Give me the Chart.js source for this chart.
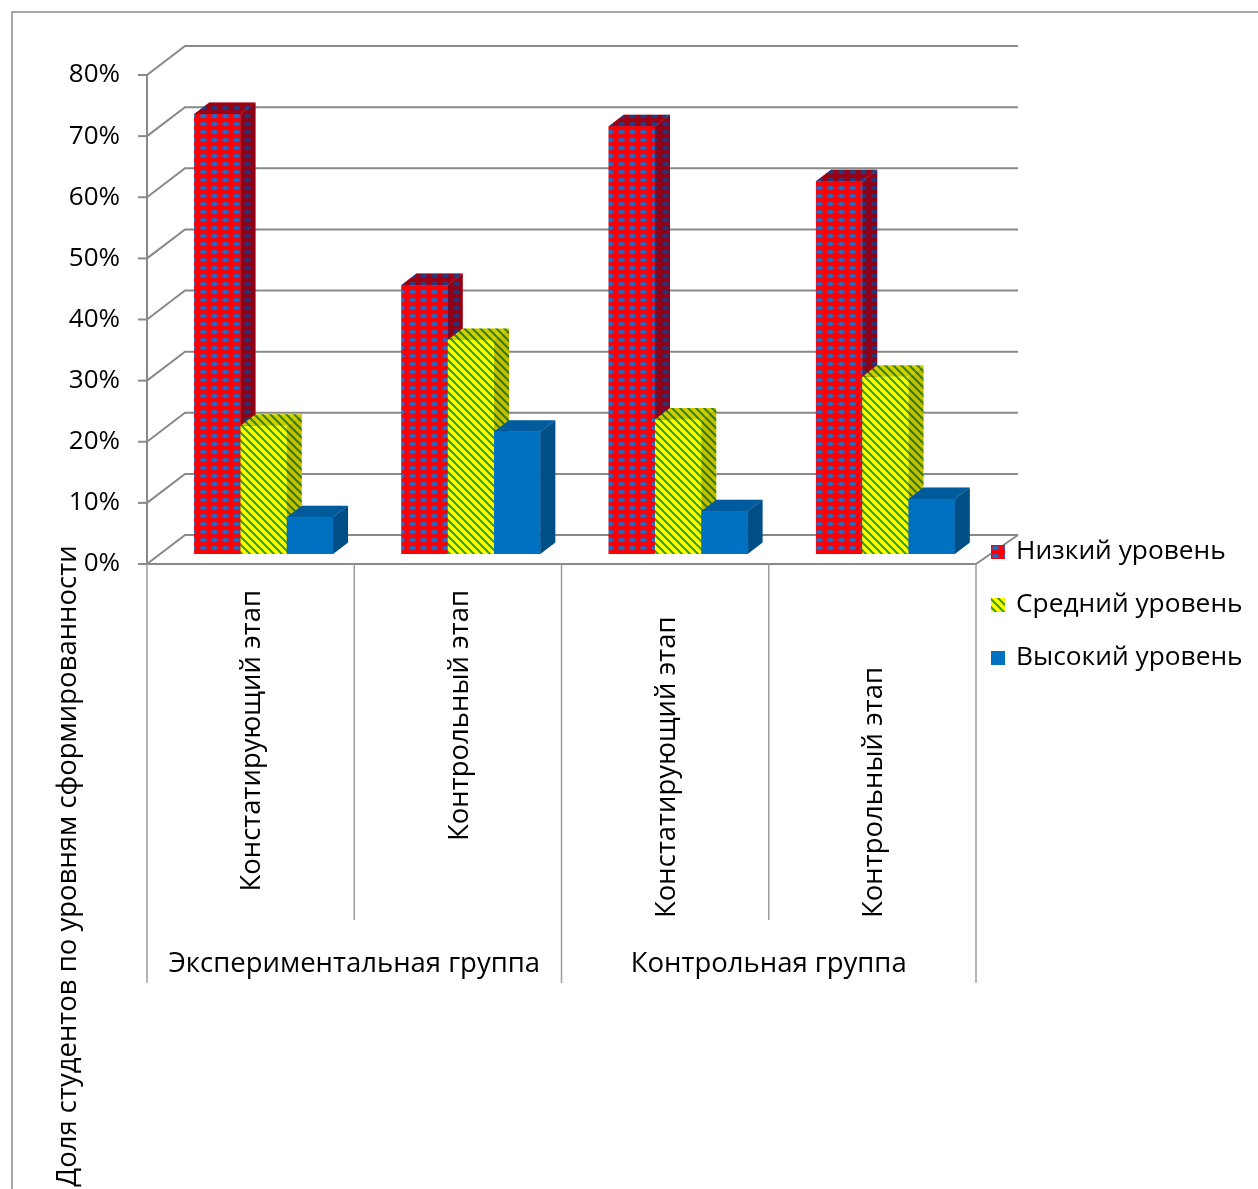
<!DOCTYPE html>
<html>
<head>
<meta charset="utf-8">
<script src="https://cdn.jsdelivr.net/npm/chart.js@4.4.1/dist/chart.umd.min.js"></script>
<style>
  html, body { margin: 0; padding: 0; background: #fff; }
</style>
</head>
<body>
<canvas id="chart" width="1258" height="1189"></canvas>
<script>
// данные диаграммы
const etapy = ["Констатирующий этап", "Контрольный этап", "Констатирующий этап", "Контрольный этап"];
const gruppy = ["Экспериментальная группа", "Контрольная группа"];
const urovni = ["Низкий уровень", "Средний уровень", "Высокий уровень"];
const nizkiy = [72, 44, 70, 61];
const sredniy = [21, 35, 22, 29];
const vysokiy = [6, 20, 7, 9];
const shkalaY = [0, 10, 20, 30, 40, 50, 60, 70, 80];
const podpisOsiY = "Доля студентов по уровням сформированности";

const SEMEYSTVO = '"Open Sans", "Noto Sans", sans-serif';
const SERYY = '#898989';

// смещения "объёма": передняя плоскость, задняя стенка, глубина столбика
const PERED = { dx: -13, dy: 10 };
const ZAD = { dx: 25, dy: -19 };
const GLUB = { dx: 15, dy: -11.5 };

function plitka(w, h, risovat) {
  const c = document.createElement('canvas');
  c.width = w; c.height = h;
  const g = c.getContext('2d');
  risovat(g, w, h);
  return g.createPattern(c, 'repeat');
}

// красный с синими точками
const uzorNizkiy = plitka(11, 8, (g, w, h) => {
  g.fillStyle = '#ff0000';
  g.fillRect(0, 0, w, h);
  g.fillStyle = 'rgba(110,50,150,0.4)';
  g.beginPath(); g.ellipse(w / 2, h / 2, 4.1, 2.8, 0, 0, Math.PI * 2); g.fill();
  g.fillStyle = '#1c6fc6';
  g.beginPath(); g.ellipse(w / 2, h / 2, 3.2, 2.0, 0, 0, Math.PI * 2); g.fill();
});

// жёлтый с зелёной диагональной штриховкой
const uzorSredniy = plitka(8, 8, (g, w, h) => {
  g.fillStyle = '#ffff00';
  g.fillRect(0, 0, w, h);
  g.strokeStyle = '#2e9e2a';
  g.lineWidth = 2.0;
  for (const k of [-w, 0, w]) {
    g.beginPath(); g.moveTo(k - 2, -2); g.lineTo(k + w + 2, h + 2); g.stroke();
  }
});

const stili = [
  { fon: uzorNizkiy, bok: 'rgba(40,0,40,0.5)', verh: 'rgba(40,0,40,0.45)' },
  { fon: uzorSredniy, bok: 'rgba(40,30,0,0.28)', verh: 'rgba(40,30,0,0.22)' },
  { fon: '#0070c0', bok: 'rgba(0,0,0,0.3)', verh: 'rgba(0,0,0,0.18)' }
];

function zalit(ctx, tochki, ...zalivki) {
  ctx.beginPath();
  ctx.moveTo(tochki[0][0], tochki[0][1]);
  for (let i = 1; i < tochki.length; i++) ctx.lineTo(tochki[i][0], tochki[i][1]);
  ctx.closePath();
  for (const z of zalivki) { ctx.fillStyle = z; ctx.fill(); }
}

// стенки, сетка и оси
const karkas = {
  id: 'karkas',
  beforeDatasetsDraw(chart) {
    const { ctx, chartArea: a, scales: { x, y } } = chart;
    ctx.save();
    ctx.strokeStyle = SERYY;
    ctx.lineWidth = 2;
    for (const v of shkalaY) {
      const py = y.getPixelForValue(v);
      ctx.beginPath();
      ctx.moveTo(a.left + PERED.dx, py + PERED.dy);
      ctx.lineTo(a.left + ZAD.dx, py + ZAD.dy);
      ctx.lineTo(a.right + ZAD.dx + 4, py + ZAD.dy);
      ctx.stroke();
      // засечки оси
      ctx.beginPath();
      ctx.moveTo(a.left + PERED.dx - 9, py + PERED.dy);
      ctx.lineTo(a.left + PERED.dx, py + PERED.dy);
      ctx.stroke();
    }
    const y0 = y.getPixelForValue(0);
    const yMax = y.getPixelForValue(shkalaY[shkalaY.length - 1]);
    ctx.beginPath();
    ctx.moveTo(a.left + PERED.dx, yMax + PERED.dy);
    ctx.lineTo(a.left + PERED.dx, y0 + PERED.dy);
    ctx.lineTo(a.right + PERED.dx, y0 + PERED.dy);
    ctx.lineTo(a.right + ZAD.dx + 4, y0 + ZAD.dy);
    ctx.stroke();

    // подписи значений
    ctx.fillStyle = '#000';
    ctx.font = '26px ' + SEMEYSTVO;
    ctx.textAlign = 'right';
    ctx.textBaseline = 'middle';
    for (const v of shkalaY) {
      ctx.fillText(v + '%', a.left + PERED.dx - 27, y.getPixelForValue(v) + PERED.dy);
    }

    // разделители категорий и групп
    const niz = y0 + PERED.dy;
    const n = etapy.length;
    const granicy = [a.left];
    for (let i = 0; i < n - 1; i++) granicy.push((x.getPixelForValue(i) + x.getPixelForValue(i + 1)) / 2);
    granicy.push(a.right);
    ctx.strokeStyle = '#9c9c9c';
    ctx.lineWidth = 1.5;
    granicy.forEach((gx, i) => {
      const dlinnaya = i % 2 === 0;
      ctx.beginPath();
      ctx.moveTo(gx + PERED.dx, niz);
      ctx.lineTo(gx + PERED.dx, dlinnaya ? 983 : 920);
      ctx.stroke();
    });

    // подписи этапов (повёрнутые)
    ctx.font = '27.5px ' + SEMEYSTVO;
    etapy.forEach((t, i) => {
      const cx = x.getPixelForValue(i) + PERED.dx + 2;
      ctx.save();
      if (i < 2) {
        ctx.translate(cx, niz + 26);
        ctx.rotate(-Math.PI / 2);
        ctx.textAlign = 'right';
      } else {
        ctx.translate(cx, 918);
        ctx.rotate(-Math.PI / 2);
        ctx.textAlign = 'left';
      }
      ctx.textBaseline = 'middle';
      ctx.fillText(t, 0, 0);
      ctx.restore();
    });

    // подписи групп
    ctx.textAlign = 'center';
    gruppy.forEach((t, g) => {
      const gx = (granicy[g * 2] + granicy[g * 2 + 2]) / 2 + PERED.dx;
      ctx.fillText(t, gx, 964);
    });

    // название оси значений
    ctx.save();
    ctx.translate(68, 866);
    ctx.rotate(-Math.PI / 2);
    ctx.fillText(podpisOsiY, 0, 0);
    ctx.restore();

    // рамка области диаграммы
    ctx.strokeStyle = '#8a8a8a';
    ctx.lineWidth = 1.5;
    ctx.beginPath();
    ctx.moveTo(12, 1189);
    ctx.lineTo(12, 12);
    ctx.lineTo(1258, 12);
    ctx.stroke();
    ctx.restore();
  },

  // объёмные столбики: передняя грань, бок, верх — по порядку слева направо
  afterDatasetsDraw(chart) {
    const { ctx } = chart;
    const metas = chart.data.datasets.map((d, j) => chart.getDatasetMeta(j));
    ctx.save();
    for (let i = 0; i < etapy.length; i++) {
      metas.forEach((meta, j) => {
        const el = meta.data[i];
        const { x, y, base, width } = el.getProps(['x', 'y', 'base', 'width'], true);
        const l = x - width / 2, r = x + width / 2;
        const s = stili[j];
        zalit(ctx, [[l, y], [r, y], [r, base], [l, base]], s.fon);
        zalit(ctx, [[r, y], [r + GLUB.dx, y + GLUB.dy], [r + GLUB.dx, base + GLUB.dy], [r, base]], s.fon, s.bok);
        zalit(ctx, [[l, y], [r, y], [r + GLUB.dx, y + GLUB.dy], [l + GLUB.dx, y + GLUB.dy]], s.fon, s.verh);
      });
    }

    // легенда
    ctx.font = '26.3px ' + SEMEYSTVO;
    ctx.textAlign = 'left';
    ctx.textBaseline = 'middle';
    chart.data.datasets.forEach((d, j) => {
      const cy = 552 + j * 53;
      ctx.fillStyle = stili[j].fon;
      ctx.fillRect(991, cy - 7, 14, 14);
      ctx.fillStyle = '#000';
      ctx.fillText(d.label, 1016, cy);
    });
    ctx.restore();
  }
};

new Chart(document.getElementById('chart'), {
  type: 'bar',
  data: {
    labels: etapy,
    datasets: [
      { label: urovni[0], data: nizkiy, backgroundColor: stili[0].fon },
      { label: urovni[1], data: sredniy, backgroundColor: stili[1].fon },
      { label: urovni[2], data: vysokiy, backgroundColor: stili[2].fon }
    ]
  },
  options: {
    responsive: false,
    animation: false,
    layout: { padding: { left: 160, right: 269, top: 65, bottom: 635 } },
    datasets: { bar: { categoryPercentage: 0.67, barPercentage: 1 } },
    plugins: { legend: { display: false }, tooltip: { enabled: false } },
    scales: {
      x: { display: false, offset: true },
      y: { display: false, min: 0, max: 80, ticks: { stepSize: 10 } }
    }
  },
  plugins: [karkas]
});
</script>
</body>
</html>
